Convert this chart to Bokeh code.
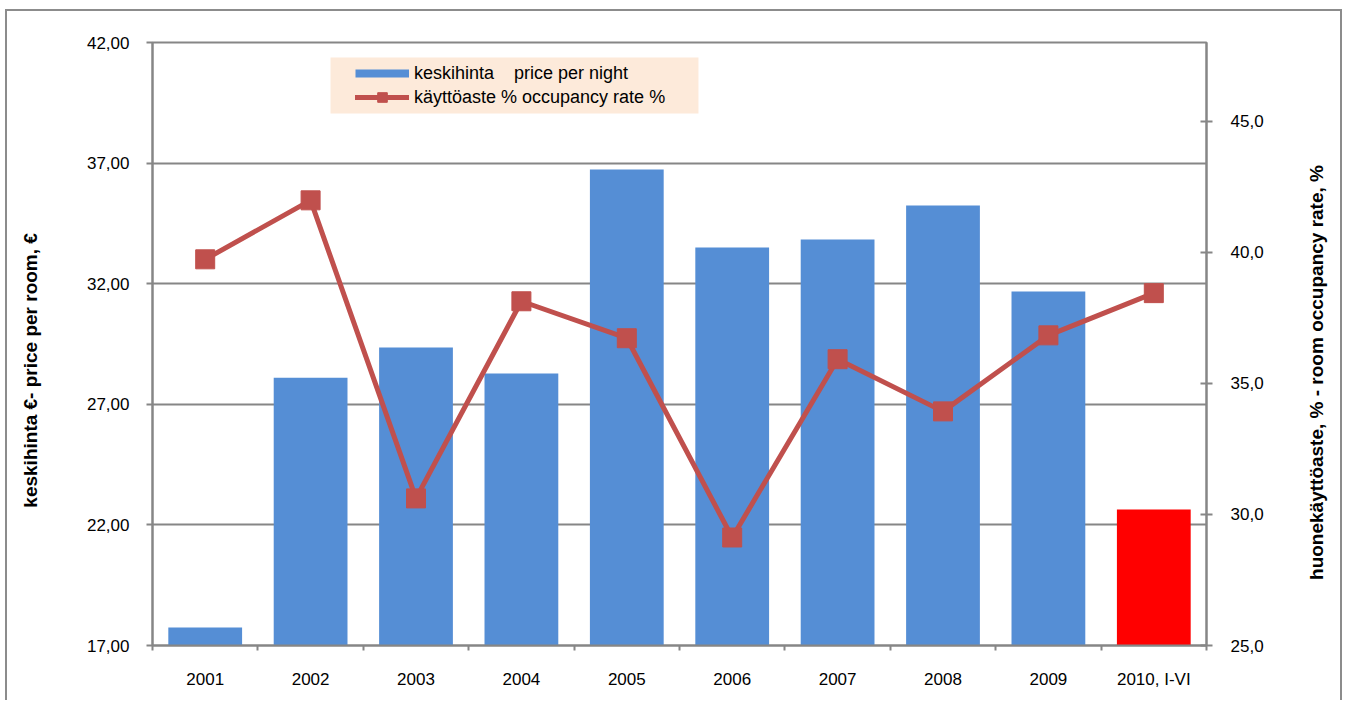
import math
from bokeh.plotting import figure
from bokeh.models import (Range1d, LinearAxis, FixedTicker, CustomJSTickFormatter,
                          Legend, LegendItem, BoxAnnotation, Label)
from bokeh.embed import file_html
from bokeh.resources import INLINE

# ---- data ----
years = ["2001", "2002", "2003", "2004", "2005", "2006", "2007", "2008", "2009", "2010, I-VI"]
price_per_night = [17.75, 28.1, 29.35, 28.28, 36.73, 33.5, 33.83, 35.24, 31.68, 22.64]
occupancy_rate = [39.73, 41.98, 30.61, 38.13, 36.72, 29.12, 35.92, 33.93, 36.83, 38.44]
left_ticks = [17, 22, 27, 32, 37, 42]
right_ticks = [25, 30, 35, 40, 45]
left_title = "keskihinta €- price per room, €"
right_title = "huonekäyttöaste, % - room occupancy rate, %"
legend_labels = ["keskihinta \u00a0\u00a0\u00a0price per night", "käyttöaste % occupancy rate %"]

# ---- style ----
BLUE = "#558ED5"
HIGHLIGHT = "#FF0000"
LINE_RED = "#C0504D"
GREY = "#868686"
FONT = "Liberation Sans"
NAN = float("nan")
PAD = "\u00a0" * 10  # shifts the centred axis title slightly downwards

xs = [i + 0.5 for i in range(len(years))]
bar_colors = [BLUE] * (len(years) - 1) + [HIGHLIGHT]

p = figure(width=1342, height=700,
           x_range=Range1d(0, len(years)), y_range=Range1d(left_ticks[0], left_ticks[-1]),
           output_backend="svg", toolbar_location=None,
           min_border_left=152, min_border_right=136, min_border_top=42, min_border_bottom=55)
p.styles = {"box-shadow": ("inset 5px 0 0 0 #ffffff, inset 0 9px 0 0 #ffffff, "
                           "inset 7px 0 0 0 #8c8c8c, inset 0 11px 0 0 #8c8c8c, "
                           "inset -2px 0 0 0 #8c8c8c")}
p.background_fill_color = "white"
p.border_fill_alpha = 0
p.outline_line_color = GREY
p.outline_line_width = 2

p.extra_y_ranges = {"occ": Range1d(right_ticks[0], 48)}

# bars
p.vbar(x=xs, top=price_per_night, bottom=left_ticks[0], width=0.7,
       fill_color=bar_colors, line_color=None)

# line + markers
p.line(xs, occupancy_rate, y_range_name="occ", line_width=5, line_color=LINE_RED)
p.scatter(xs, occupancy_rate, y_range_name="occ", marker="square", size=19,
          fill_color=LINE_RED, line_color=LINE_RED)

# grid
p.xgrid.grid_line_color = None
p.ygrid.grid_line_color = GREY
p.ygrid.grid_line_width = 2
p.ygrid.ticker = FixedTicker(ticks=left_ticks)

# left axis
ly = p.left[0]
ly.ticker = FixedTicker(ticks=left_ticks)
ly.formatter = CustomJSTickFormatter(code="return tick.toFixed(2).replace('.', ',')")
ly.axis_label = left_title + PAD
ly.axis_label_text_font = FONT
ly.axis_label_text_font_style = "bold"
ly.axis_label_text_font_size = "19px"
ly.axis_label_text_color = "black"
ly.axis_label_standoff = 43
ly.major_label_text_font = FONT
ly.major_label_text_font_size = "17px"
ly.major_label_text_color = "black"
ly.major_label_standoff = 17
ly.axis_line_color = GREY
ly.axis_line_width = 2
ly.major_tick_line_color = GREY
ly.major_tick_line_width = 2
ly.major_tick_out = 6
ly.major_tick_in = 0
ly.minor_tick_line_color = None

# right axis
ry = LinearAxis(y_range_name="occ")
ry.ticker = FixedTicker(ticks=right_ticks)
ry.formatter = CustomJSTickFormatter(code="return tick.toFixed(1).replace('.', ',')")
ry.major_label_text_font = FONT
ry.major_label_text_font_size = "17px"
ry.major_label_text_color = "black"
ry.major_label_standoff = 18
ry.axis_line_color = GREY
ry.axis_line_width = 2
ry.major_tick_line_color = GREY
ry.major_tick_line_width = 2
ry.major_tick_out = 6
ry.major_tick_in = 6
ry.minor_tick_line_color = None
p.add_layout(ry, "right")

# right title: a label in the right-hand panel, reading bottom to top
p.add_layout(Label(x=50, y=273, x_units="screen", y_units="screen", text=right_title,
                   angle=math.pi / 2, text_align="center", text_baseline="middle",
                   text_font=FONT, text_font_style="bold", text_font_size="19px",
                   text_color="black"), "right")

# x axis
xa = p.below[0]
xa.ticker = FixedTicker(ticks=xs, minor_ticks=list(range(len(years) + 1)))
xa.formatter = CustomJSTickFormatter(args=dict(labels=years),
                                     code="return labels[Math.round(tick - 0.5)]")
xa.major_label_text_font = FONT
xa.major_label_text_font_size = "17px"
xa.major_label_text_color = "black"
xa.major_label_standoff = 19
xa.major_tick_line_color = None
xa.major_tick_out = 0
xa.major_tick_in = 0
xa.minor_tick_line_color = GREY
xa.minor_tick_line_width = 2
xa.minor_tick_out = 5
xa.minor_tick_in = 0
xa.axis_line_color = GREY
xa.axis_line_width = 2

# legend background box
p.add_layout(BoxAnnotation(left=1.689, right=5.18, top=41.378, bottom=39.056,
                           fill_color="#FDEADA", fill_alpha=1, line_color=None))

# legend proxies (no visible data)
leg_bar = p.line(x=[NAN], y=[NAN], line_width=8, line_color=BLUE)
leg_line = p.line(x=[NAN], y=[NAN], line_width=5, line_color=LINE_RED, line_cap="round")
leg_sq = p.scatter(x=[NAN], y=[NAN], marker="square", fill_color=LINE_RED, line_color=LINE_RED)

legend = Legend(items=[
    LegendItem(label=legend_labels[0], renderers=[leg_bar]),
    LegendItem(label=legend_labels[1], renderers=[leg_line, leg_sq]),
], location=(203, 536))
legend.background_fill_alpha = 0
legend.border_line_color = None
legend.padding = 0
legend.margin = 0
legend.spacing = 0
legend.glyph_width = 54
legend.glyph_height = 24
legend.label_height = 24
legend.label_standoff = 5
legend.label_text_font = FONT
legend.label_text_font_size = "18px"
legend.label_text_color = "black"
p.add_layout(legend)

open("out.html", "w").write(file_html(p, INLINE))
